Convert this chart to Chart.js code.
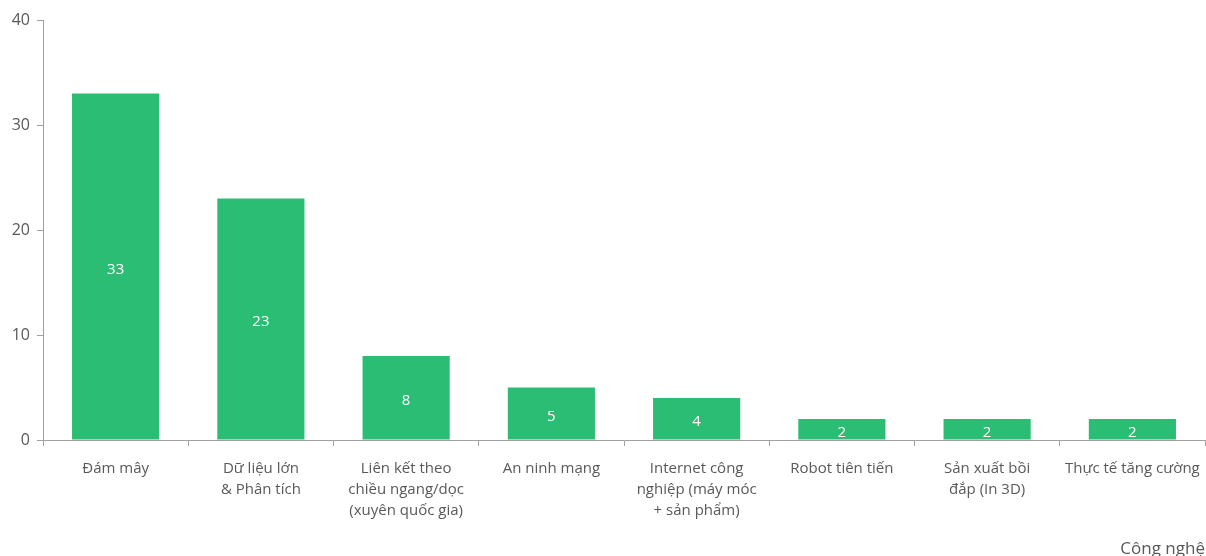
<!DOCTYPE html>
<html>
<head>
<meta charset="utf-8">
<script src="https://cdn.jsdelivr.net/npm/chart.js@4/dist/chart.umd.min.js"></script>
<style>
  html, body { margin: 0; padding: 0; background: #fff; }
  #wrap { width: 1206px; height: 556px; }
</style>
</head>
<body>
<div id="wrap"><canvas id="techChart"></canvas></div>
<script>
// Data
const categories = [
  ['Đám mây'],
  ['Dữ liệu lớn', '& Phân tích'],
  ['Liên kết theo', 'chiều ngang/dọc', '(xuyên quốc gia)'],
  ['An ninh mạng'],
  ['Internet công', 'nghiệp (máy móc', '+ sản phẩm)'],
  ['Robot tiên tiến'],
  ['Sản xuất bồi', 'đắp (In 3D)'],
  ['Thực tế tăng cường']
];
const counts = [33, 23, 8, 5, 4, 2, 2, 2];
const yTicks = [0, 10, 20, 30, 40];
const axisTitle = 'Công nghệ';

const barColor = '#2bbd73';
const textColor = '#595959';
const axisColor = '#a0a0a0';

// white value labels in the middle of each bar
const valueLabels = {
  id: 'valueLabels',
  afterDatasetsDraw(chart) {
    const ctx = chart.ctx;
    const area = chart.chartArea;
    ctx.save();
    ctx.beginPath();
    ctx.rect(area.left, area.top, area.right - area.left, area.bottom - area.top);
    ctx.clip();
    ctx.fillStyle = '#ffffff';
    ctx.font = '15px "Open Sans"';
    ctx.textAlign = 'center';
    ctx.textBaseline = 'middle';
    chart.getDatasetMeta(0).data.forEach((bar, i) => {
      const mid = (bar.y + bar.base) / 2;
      ctx.fillText(String(counts[i]), bar.x, mid + 3);
    });
    ctx.restore();
  }
};

// axis title in the bottom right corner
const cornerTitle = {
  id: 'cornerTitle',
  afterDraw(chart) {
    const ctx = chart.ctx;
    ctx.save();
    ctx.fillStyle = textColor;
    ctx.font = '17px "Open Sans"';
    ctx.textAlign = 'right';
    ctx.textBaseline = 'middle';
    ctx.fillText(axisTitle, chart.chartArea.right, chart.chartArea.bottom + 109);
    ctx.restore();
  }
};

new Chart(document.getElementById('techChart'), {
  type: 'bar',
  data: {
    labels: categories,
    datasets: [{
      data: counts,
      backgroundColor: barColor,
      categoryPercentage: 1,
      barPercentage: 0.6
    }]
  },
  options: {
    responsive: true,
    maintainAspectRatio: false,
    animation: false,
    layout: { padding: { top: 20, right: 1, left: 0, bottom: 0 } },
    plugins: {
      legend: { display: false },
      tooltip: { enabled: false }
    },
    scales: {
      x: {
        grid: {
          offset: true,
          drawOnChartArea: false,
          drawTicks: true,
          tickLength: 6,
          color: axisColor
        },
        border: { color: axisColor, width: 1 },
        ticks: {
          color: textColor,
          font: { family: 'Open Sans', size: 15, lineHeight: 1.4 },
          padding: 12,
          maxRotation: 0,
          autoSkip: false
        },
        afterFit(scale) {
          scale.height = 116;
          scale.paddingLeft = 0;
          scale.paddingRight = 0;
        }
      },
      y: {
        min: 0,
        max: 40,
        afterBuildTicks(scale) {
          scale.ticks = yTicks.map(v => ({ value: v }));
        },
        grid: {
          drawOnChartArea: false,
          drawTicks: true,
          tickLength: 6,
          color: axisColor
        },
        border: { color: axisColor, width: 1 },
        ticks: {
          color: textColor,
          font: { family: 'Open Sans', size: 16 },
          padding: 7
        },
        afterFit(scale) { scale.width = 43; }
      }
    }
  },
  plugins: [valueLabels, cornerTitle]
});
</script>
</body>
</html>
